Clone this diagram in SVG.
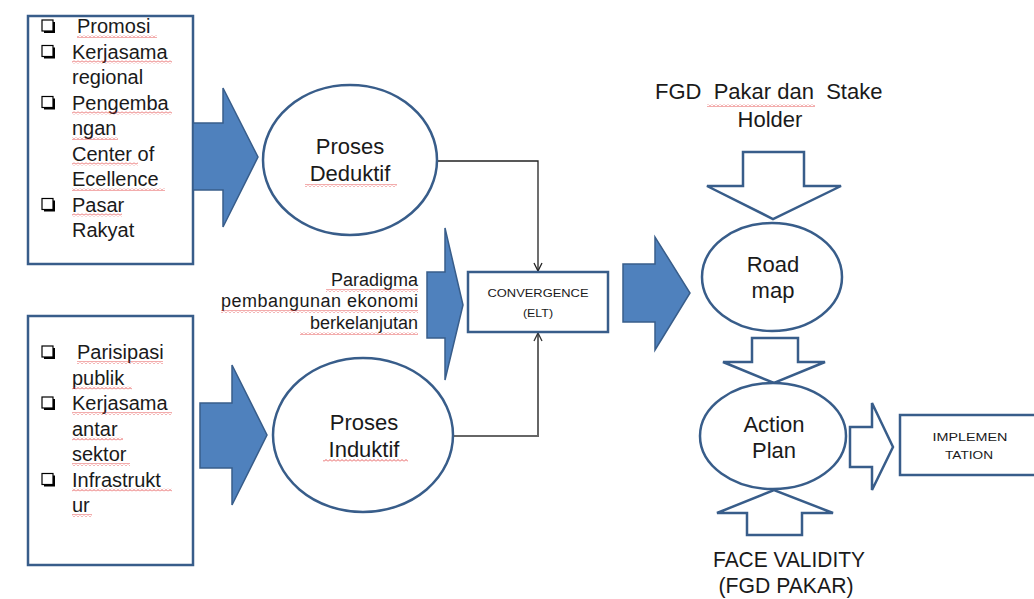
<svg xmlns="http://www.w3.org/2000/svg" width="1034" height="599" viewBox="0 0 1034 599">
<defs>
<style>
.box{fill:#fff;stroke:#385D8A;stroke-width:2.5}
.ell{fill:#fff;stroke:#385D8A;stroke-width:2.5}
.blk{fill:#4F81BD;stroke:#385D8A;stroke-width:1.5;stroke-linejoin:miter}
.out{fill:#fff;stroke:#385D8A;stroke-width:2.5;stroke-linejoin:miter}
.t{font-family:"Liberation Sans",Arial,sans-serif;fill:#1a1a1a}
.b{font-size:20px}
.c{font-size:22px;text-anchor:middle}
.s{font-size:11px;text-anchor:middle}
.p{font-size:18px;text-anchor:end}
.wv{fill:url(#wavy)}
.cb{fill:#fff;stroke:#000;stroke-width:1.2}
.cbs{fill:#000}
</style>
<pattern id="wavy" patternUnits="userSpaceOnUse" width="4" height="3">
<path d="M0,2.5 L2,0.5 L4,2.5" fill="none" stroke="#e03030" stroke-width="0.8"/>
</pattern>
<marker id="ah" markerWidth="10" markerHeight="10" refX="9" refY="5" orient="auto" markerUnits="userSpaceOnUse">
<path d="M1,1 L9,5 L1,9" fill="none" stroke="#222" stroke-width="1.3"/>
</marker>
<marker id="ahg" markerWidth="10" markerHeight="10" refX="9" refY="5" orient="auto" markerUnits="userSpaceOnUse">
<path d="M1,1 L9,5 L1,9" fill="none" stroke="#333" stroke-width="1.3"/>
</marker>
</defs>
<rect width="1034" height="599" fill="#fff"/>

<g id="connectors">
<path d="M437,161 H538 V271" fill="none" stroke="#222" stroke-width="1.3" marker-end="url(#ah)"/>
<path d="M453,436 H538 V333" fill="none" stroke="#666" stroke-width="2" marker-end="url(#ahg)"/>
</g>

<g id="box-top">
<rect class="box" x="28" y="16" width="165" height="248"/>
<g>
<rect class="cbs" x="44" y="22" width="11" height="11"/><rect class="cb" x="42" y="20" width="11" height="11"/>
<rect class="cbs" x="44" y="47.5" width="11" height="11"/><rect class="cb" x="42" y="45.5" width="11" height="11"/>
<rect class="cbs" x="44" y="98.5" width="11" height="11"/><rect class="cb" x="42" y="96.5" width="11" height="11"/>
<rect class="cbs" x="44" y="200.5" width="11" height="11"/><rect class="cb" x="42" y="198.5" width="11" height="11"/>
</g>
<text class="t b" x="77" y="33">Promosi</text>
<text class="t b" x="72" y="58.5">Kerjasama</text>
<text class="t b" x="72" y="84">regional</text>
<text class="t b" x="72" y="109.5">Pengemba</text>
<text class="t b" x="72" y="135">ngan</text>
<text class="t b" x="72" y="160.5">Center of</text>
<text class="t b" x="72" y="186">Ecellence</text>
<text class="t b" x="72" y="211.5">Pasar</text>
<text class="t b" x="72" y="237">Rakyat</text>
<rect class="wv" x="77" y="35" width="80" height="3"/>
<rect class="wv" x="72" y="60.5" width="100" height="3"/>
<rect class="wv" x="72" y="111.5" width="100" height="3"/>
<rect class="wv" x="72" y="137" width="46" height="3"/>
<rect class="wv" x="72" y="162.5" width="66" height="3"/>
<rect class="wv" x="72" y="188" width="93" height="3"/>
<rect class="wv" x="72" y="213.5" width="50" height="3"/>
</g>

<g id="box-bottom">
<rect class="box" x="28" y="316" width="165" height="249"/>
<rect class="cbs" x="44" y="348" width="11" height="11"/><rect class="cb" x="42" y="346" width="11" height="11"/>
<rect class="cbs" x="44" y="399" width="11" height="11"/><rect class="cb" x="42" y="397" width="11" height="11"/>
<rect class="cbs" x="44" y="475.5" width="11" height="11"/><rect class="cb" x="42" y="473.5" width="11" height="11"/>
<text class="t b" x="77" y="359">Parisipasi</text>
<text class="t b" x="72" y="384.5">publik</text>
<text class="t b" x="72" y="410">Kerjasama</text>
<text class="t b" x="72" y="435.5">antar</text>
<text class="t b" x="72" y="461">sektor</text>
<text class="t b" x="72" y="486.5">Infrastrukt</text>
<text class="t b" x="72" y="512">ur</text>
<rect class="wv" x="77" y="361" width="86" height="3"/>
<rect class="wv" x="72" y="386.5" width="60" height="3"/>
<rect class="wv" x="72" y="412" width="100" height="3"/>
<rect class="wv" x="72" y="437.5" width="51" height="3"/>
<rect class="wv" x="72" y="463" width="58" height="3"/>
<rect class="wv" x="72" y="488.5" width="100" height="3"/>
<rect class="wv" x="72" y="514" width="20" height="3"/>
</g>

<g id="arrow-top"><polygon class="blk" points="193,123 223,123 223,88 258,157 223,227 223,190 193,190"/></g>
<g id="arrow-bottom"><polygon class="blk" points="200,403 232,403 232,365 267,435 232,505 232,468 200,468"/></g>

<g id="deduktif">
<ellipse class="ell" cx="350" cy="160" rx="87" ry="75"/>
<text class="t c" x="350" y="154">Proses</text>
<text class="t c" x="350" y="181">Deduktif</text>
<rect class="wv" x="305" y="184" width="92" height="3"/>
</g>

<g id="induktif">
<ellipse class="ell" cx="363" cy="435" rx="90" ry="77"/>
<text class="t c" x="364" y="430">Proses</text>
<text class="t c" x="364" y="457">Induktif</text>
<rect class="wv" x="323" y="459" width="85" height="3"/>
</g>

<g id="paradigma">
<polygon class="blk" points="427,272 445,272 445,228 463,305 445,380 445,338 427,338"/>
<text class="t p" x="418" y="286">Paradigma</text>
<text class="t p" x="418" y="307" textLength="197" lengthAdjust="spacing">pembangunan ekonomi</text>
<text class="t p" x="418" y="329">berkelanjutan</text>
<rect class="wv" x="326" y="289" width="92" height="3"/>
<rect class="wv" x="221" y="310" width="197" height="3"/>
<rect class="wv" x="300" y="332" width="118" height="3"/>
</g>

<g id="convergence">
<rect class="box" x="468" y="272" width="140" height="60"/>
<text class="t s" x="538" y="297" textLength="101" lengthAdjust="spacingAndGlyphs">CONVERGENCE</text>
<text class="t s" x="538" y="317" textLength="30" lengthAdjust="spacingAndGlyphs">(ELT)</text>
</g>

<g id="arrow-road"><polygon class="blk" points="623,264 655,264 655,237 690,293 655,350 655,322 623,322"/></g>

<g id="fgd">
<text class="t" font-size="22" x="655" y="99" xml:space="preserve">FGD  Pakar dan  Stake</text>
<text class="t c" x="770" y="127">Holder</text>
<rect class="wv" x="707" y="104" width="108" height="3"/>
<polygon class="out" points="743,152 804,152 804,186 841,186 773,219 707,186 743,186"/>
</g>

<g id="roadmap">
<ellipse class="ell" cx="772" cy="277" rx="70" ry="54"/>
<text class="t c" x="773" y="272">Road</text>
<text class="t c" x="773" y="298">map</text>
</g>

<g id="arrow-down2"><polygon class="out" points="752,338 798,338 798,362 825,362 774,383 723,362 752,362"/></g>

<g id="actionplan">
<ellipse class="ell" cx="773" cy="436" rx="73" ry="53"/>
<text class="t c" x="774" y="432">Action</text>
<text class="t c" x="774" y="458">Plan</text>
</g>

<g id="face-validity">
<polygon class="out" points="747,535 802,535 802,513 833,513 774,490 717,513 747,513"/>
<text class="t c" x="789" y="567" textLength="152" lengthAdjust="spacingAndGlyphs">FACE VALIDITY</text>
<text class="t c" x="786" y="593" textLength="135" lengthAdjust="spacingAndGlyphs">(FGD PAKAR)</text>
</g>

<g id="arrow-impl"><polygon class="out" points="850,427 872,427 872,403 893,447 872,490 872,467 850,467"/></g>

<g id="implementation">
<rect class="box" x="900" y="415" width="150" height="60"/>
<text class="t s" x="970" y="441" textLength="75" lengthAdjust="spacingAndGlyphs">IMPLEMEN</text>
<text class="t s" x="969" y="459" textLength="48" lengthAdjust="spacingAndGlyphs">TATION</text>
</g>
</svg>
